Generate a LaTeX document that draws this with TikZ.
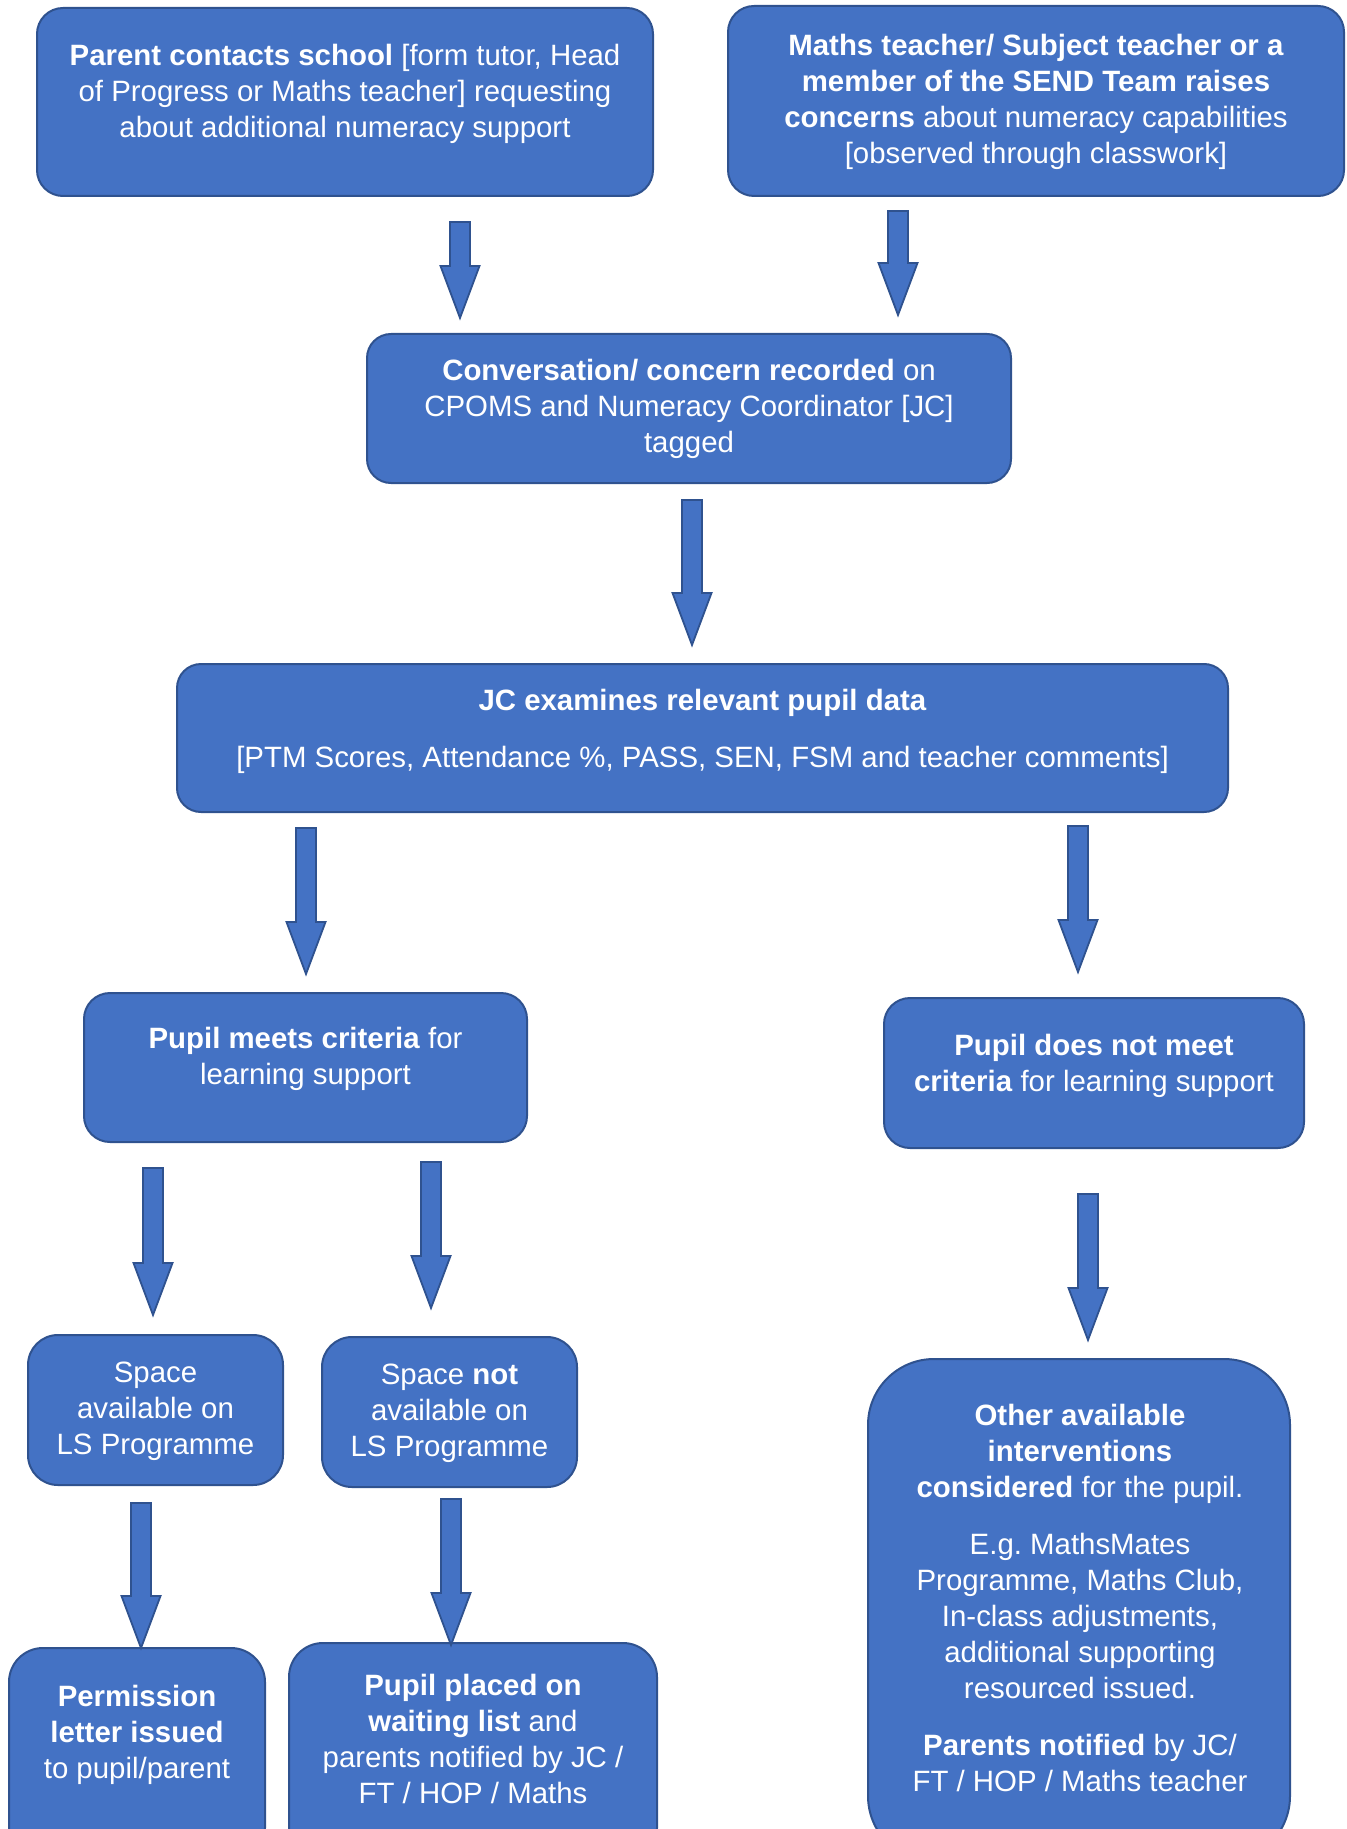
\documentclass[tikz,border=0pt]{standalone}
\usepackage{fontspec}
\setmainfont{Liberation Sans}
\usepackage{tikz}
\usetikzlibrary{calc,positioning}
\definecolor{boxfill}{HTML}{4472C4}
\definecolor{boxline}{HTML}{2F528F}
\tikzset{
flowbox/.style={rectangle, draw=boxline, fill=boxfill, line width=1pt, inner sep=0pt, outer sep=0pt, rounded corners=13pt}, % the blue boxes
flowtext/.style={text=white, align=center, inner sep=0pt, font=\fontsize{14.7}{18}\selectfont\frenchspacing}, % white text in the boxes
}
\tikzset{
    blockarrow/.style={draw=boxline, fill=boxfill, line width=0.9pt, line join=miter,
        to path={($(\tikztostart)+(-10,0)$) -- ($(\tikztotarget)+(-10,-52)$) -- ($(\tikztotarget)+(-19.5,-52)$) -- (\tikztotarget)
                 -- ($(\tikztotarget)+(19.5,-52)$) -- ($(\tikztotarget)+(10,-52)$) -- ($(\tikztostart)+(10,0)$) -- cycle}
    }
}
\begin{document}
\begin{tikzpicture}[x=0.5pt,y=0.5pt,yscale=-1,xscale=1]
		\useasboundingbox (0,0) rectangle (1346,1829);
		\clip (0,0) rectangle (1346,1829);
		
		% Text Node
		\node [flowbox, minimum width=308pt, minimum height=94pt] (parent) at (345,102) {};
		\node [flowtext] (parent-t) at (345,94) {\textbf{Parent contacts school} [form tutor, Head\\ of Progress or Maths teacher] requesting\\ about additional numeracy support};
		% Text Node
		\node [flowbox, minimum width=308pt, minimum height=95pt] (teacher) at (1036,101) {};
		\node [flowtext] (teacher-t) at (1036,102) {\textbf{Maths teacher/ Subject teacher or a}\\ \textbf{member of the SEND Team raises}\\ \textbf{concerns} about numeracy capabilities\\ {[}observed through classwork]};
		% Text Node
		\node [flowbox, rounded corners=12pt, minimum width=322pt, minimum height=74.5pt] (record) at (689,408.5) {};
		\node [flowtext] (record-t) at (689,409) {\textbf{Conversation/ concern recorded} on\\ CPOMS and Numeracy Coordinator [JC]\\ tagged};
		% Text Node
		\node [flowbox, rounded corners=12pt, minimum width=525.5pt, minimum height=74pt] (examine) at (702.5,738) {};
		\node [flowtext] (examine-t) at (702.5,731) {\textbf{JC examines relevant pupil data}\\[10.5pt] {[}PTM Scores, Attendance \%, PASS, SEN, FSM and teacher comments]};
		% Text Node
		\node [flowbox, minimum width=221.5pt, minimum height=74.5pt] (meets) at (305.5,1067.5) {};
		\node [flowtext] (meets-t) at (305.5,1059) {\textbf{Pupil meets criteria} for\\ learning support};
		% Text Node
		\node [flowbox, minimum width=210pt, minimum height=75pt] (notmeet) at (1094,1073) {};
		\node [flowtext] (notmeet-t) at (1094,1066) {\textbf{Pupil does not meet}\\ \textbf{criteria} for learning support};
		% Text Node
		\node [flowbox, rounded corners=15pt, minimum width=127.5pt, minimum height=75pt] (space) at (155.5,1410) {};
		\node [flowtext] (space-t) at (155.5,1411) {Space\\ available on\\ LS Programme};
		% Text Node
		\node [flowbox, rounded corners=15pt, minimum width=127.5pt, minimum height=75pt] (nospace) at (449.5,1412) {};
		\node [flowtext] (nospace-t) at (449.5,1413) {Space \textbf{not}\\ available on\\ LS Programme};
		% Text Node
		\node [flowbox, rounded corners=17pt, minimum width=128pt, minimum height=107pt] (letter) at (137,1755) {};
		\node [flowtext] (letter-t) at (137,1735) {\textbf{Permission}\\ \textbf{letter issued}\\ to pupil/parent};
		% Text Node
		\node [flowbox, rounded corners=17pt, minimum width=184pt, minimum height=109.5pt] (waiting) at (473,1752.5) {};
		\node [flowtext] (waiting-t) at (473,1739) {\textbf{Pupil placed on}\\ \textbf{waiting list} and\\ parents notified by JC /\\ FT / HOP / Maths};
		% Text Node
		\node [flowbox, rounded corners=33pt, minimum width=211pt, minimum height=251.5pt] (other) at (1079,1610.5) {};
		\node [flowtext] (other-t) at (1080,1598) {\textbf{Other available}\\ \textbf{interventions}\\ \textbf{considered} for the pupil.\\[10.5pt] E.g. MathsMates\\ Programme, Maths Club,\\ In-class adjustments,\\ additional supporting\\ resourced issued.\\[10.5pt] \textbf{Parents notified} by JC/\\ FT / HOP / Maths teacher};
		
		% Connection
		\coordinate (a1s) at ($(parent.south -| 460,0)+(0,26)$);
		\coordinate (a1e) at ($(record.north -| 460,0)+(0,-16)$);
		\draw [blockarrow] (a1s) to (a1e);
		% Connection
		\coordinate (a2s) at ($(teacher.south -| 898,0)+(0,15)$);
		\coordinate (a2e) at ($(record.north -| 898,0)+(0,-19)$);
		\draw [blockarrow] (a2s) to (a2e);
		% Connection
		\coordinate (a3s) at ($(record.south -| 692,0)+(0,17)$);
		\coordinate (a3e) at ($(examine.north -| 692,0)+(0,-19)$);
		\draw [blockarrow] (a3s) to (a3e);
		% Connection
		\coordinate (a4s) at ($(examine.south -| 306,0)+(0,16)$);
		\coordinate (a4e) at ($(meets.north -| 306,0)+(0,-19)$);
		\draw [blockarrow] (a4s) to (a4e);
		% Connection
		\coordinate (a5s) at ($(examine.south -| 1078,0)+(0,14)$);
		\coordinate (a5e) at ($(notmeet.north -| 1078,0)+(0,-26)$);
		\draw [blockarrow] (a5s) to (a5e);
		% Connection
		\coordinate (a6s) at ($(meets.south -| 153,0)+(0,26)$);
		\coordinate (a6e) at ($(space.north -| 153,0)+(0,-20)$);
		\draw [blockarrow] (a6s) to (a6e);
		% Connection
		\coordinate (a7s) at ($(meets.south -| 431,0)+(0,20)$);
		\coordinate (a7e) at ($(nospace.north -| 431,0)+(0,-29)$);
		\draw [blockarrow] (a7s) to (a7e);
		% Connection
		\coordinate (a8s) at ($(notmeet.south -| 1088,0)+(0,46)$);
		\coordinate (a8e) at ($(other.north -| 1088,0)+(0,-19)$);
		\draw [blockarrow] (a8s) to (a8e);
		% Connection
		\coordinate (a9s) at ($(space.south -| 141,0)+(0,18)$);
		\coordinate (a9e) at (letter.north -| 141,0);
		\draw [blockarrow] (a9s) to (a9e);
		% Connection
		\coordinate (a10s) at ($(nospace.south -| 451,0)+(0,12)$);
		\coordinate (a10e) at ($(waiting.north -| 451,0)+(0,2)$);
		\draw [blockarrow] (a10s) to (a10e);
		
\end{tikzpicture}
\end{document}
